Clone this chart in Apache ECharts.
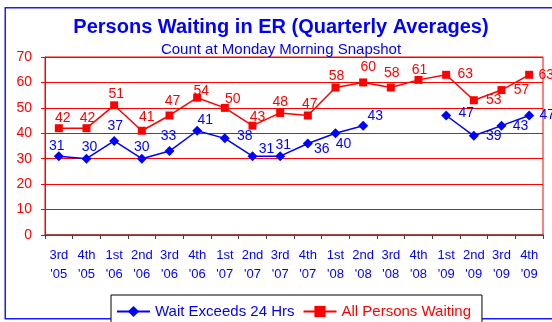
<!DOCTYPE html>
<html>
<head>
<meta charset="utf-8">
<script src="https://cdn.jsdelivr.net/npm/echarts@6/dist/echarts.min.js"></script>
<style>
  html, body { margin: 0; padding: 0; background: #ffffff; }
  #chart { width: 552px; height: 322px; }
</style>
</head>
<body>
<div id="chart"></div>
<script>
// Quarter / year tick labels
const quarters = ['3rd','4th','1st','2nd','3rd','4th','1st','2nd','3rd','4th','1st','2nd','3rd','4th','1st','2nd','3rd','4th'];
const years = ["'05","'05","'06","'06","'06","'06","'07","'07","'07","'07","'08","'08","'08","'08","'09","'09","'09","'09"];

// Quarterly averages
const waitOver24 = [31, 30, 37, 30, 33, 41, 38, 31, 31, 36, 40, 43, null, null, 47, 39, 43, 47];
const allWaiting = [42, 42, 51, 41, 47, 54, 50, 43, 48, 47, 58, 60, 58, 61, 63, 53, 57, 63];

const yTicks = [0, 10, 20, 30, 40, 50, 60, 70];

// Value-label placement (offset of label centre from its marker)
const waitLabelOffsets = [
  [-2, -10], [3, -12], [1, -15], [0, -12], [-1, -15], [8, -11], [20, -2], [14, -7], [3, -11],
  [14, 6], [8, 11], [12, -10], null, null, [20, -2], [20, 0], [19, 0], [18, 0]
];
const allLabelOffsets = [
  [4, -10], [1, -10], [2, -11], [5, -14], [3, -14], [4, -7], [8, -9], [5, -9], [0, -11],
  [2, -11], [1, -11], [5, -15], [1, -14], [1, -10], [19, -1], [20, 0], [20, 0], [17, 0]
];

const FONT = '"Liberation Sans", Arial, sans-serif';
const BLUE = '#0000ff';
const RED = '#ff0000';

const categories = quarters.map((q, i) => q + '\n' + years[i]);

function withLabels(values, offsets, color) {
  return values.map((v, i) => v === null ? '-' : {
    value: v,
    label: {
      show: true,
      position: 'inside',
      offset: offsets[i],
      color: color,
      fontSize: 14,
      fontFamily: FONT,
      textBorderWidth: 0
    }
  });
}

const chart = echarts.init(document.getElementById('chart'), null, { renderer: 'canvas' });

chart.setOption({
  backgroundColor: '#ffffff',
  animation: false,
  graphic: [
    {
      type: 'rect',
      shape: { x: 5.25, y: 7.75, width: 620, height: 311 },
      style: { fill: 'none', stroke: '#1a1aff', lineWidth: 1.5 },
      z: -10
    },
    {
      type: 'text',
      x: 281, y: 27,
      style: {
        text: 'Persons Waiting in ER (Quarterly Averages)',
        fill: BLUE, font: 'bold 20px ' + FONT,
        textAlign: 'center', textVerticalAlign: 'middle'
      }
    },
    {
      type: 'text',
      x: 281, y: 50,
      style: {
        text: 'Count at Monday Morning Snapshot',
        fill: BLUE, font: '15px ' + FONT,
        textAlign: 'center', textVerticalAlign: 'middle'
      }
    }
  ],
  grid: {
    left: 45, right: 9, top: 57, bottom: 87,
    show: true, borderColor: RED, borderWidth: 1, backgroundColor: 'transparent'
  },
  legend: {
    left: 111, top: 295,
    padding: [9, 11, 14, 5],
    itemGap: 8,
    itemWidth: 33, itemHeight: 14,
    borderColor: '#000000', borderWidth: 1,
    backgroundColor: '#ffffff',
    textStyle: { fontFamily: FONT, fontSize: 15 },
    data: [
      { name: 'Wait Exceeds 24 Hrs', textStyle: { color: BLUE } },
      { name: 'All Persons Waiting', textStyle: { color: RED } }
    ]
  },
  xAxis: {
    type: 'category',
    data: categories,
    boundaryGap: true,
    axisLine: { lineStyle: { color: '#8a3535', width: 1.5 } },
    axisTick: { show: true, length: 4, inside: false, alignWithLabel: false, lineStyle: { color: '#404040' } },
    axisLabel: {
      color: BLUE, fontFamily: FONT, fontSize: 13, lineHeight: 19,
      margin: 11, interval: 0
    },
    splitLine: { show: false }
  },
  yAxis: {
    type: 'value',
    min: yTicks[0], max: yTicks[yTicks.length - 1], interval: 10,
    axisLine: { show: true, lineStyle: { color: RED, width: 1 } },
    axisTick: { show: true, length: 4, lineStyle: { color: RED } },
    axisLabel: { color: RED, fontFamily: FONT, fontSize: 14, margin: 13 },
    splitLine: { show: true, lineStyle: { color: RED, width: 1 } }
  },
  series: [
    {
      name: 'Wait Exceeds 24 Hrs',
      type: 'line',
      data: withLabels(waitOver24, waitLabelOffsets, BLUE),
      connectNulls: false,
      symbol: 'diamond',
      symbolSize: 10,
      showAllSymbol: true,
      itemStyle: { color: BLUE },
      lineStyle: { color: BLUE, width: 1.5 },
      clip: false,
      z: 3
    },
    {
      name: 'All Persons Waiting',
      type: 'line',
      data: withLabels(allWaiting, allLabelOffsets, RED),
      symbol: 'rect',
      symbolSize: 8,
      showAllSymbol: true,
      itemStyle: { color: RED },
      lineStyle: { color: RED, width: 1.5 },
      clip: false,
      z: 3
    }
  ]
});
</script>
</body>
</html>
